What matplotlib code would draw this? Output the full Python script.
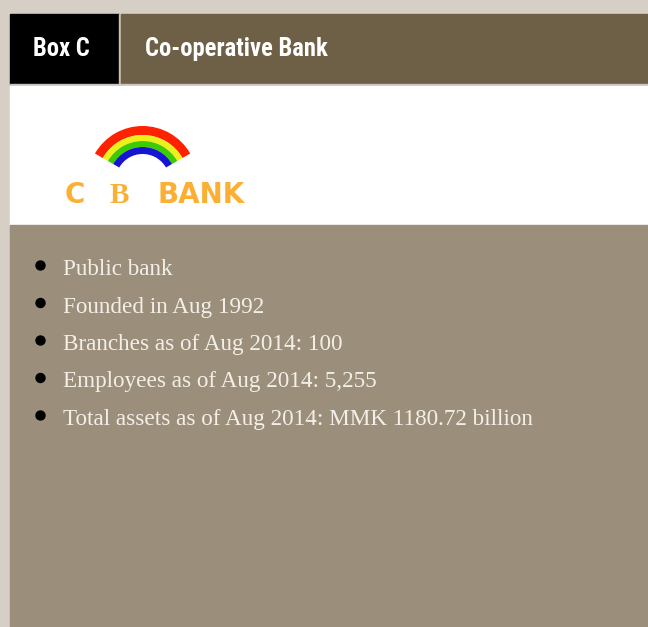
import matplotlib.pyplot as plt
from matplotlib.patches import Rectangle, Wedge, Circle

# content
box_label = 'Box C'
box_title = 'Co-operative Bank'
facts = [
    'Public bank',
    'Founded in Aug 1992',
    'Branches as of Aug 2014: 100',
    'Employees as of Aug 2014: 5,255',
    'Total assets as of Aug 2014: MMK 1180.72 billion',
]
rainbow_colors = ['#ff2200', '#eef01a', '#3ccc00', '#1414d2']
rainbow_radii = [55, 46, 40, 34, 27]

W, H = 648, 627
fig = plt.figure(figsize=(W / 100, H / 100), dpi=100)
fig.patch.set_facecolor('#d6cfc6')
ax = fig.add_axes([0, 0, 1, 1])
ax.set_xlim(0, W)
ax.set_ylim(H, 0)
ax.axis('off')

# panels
ax.add_patch(Rectangle((10, 14), 109, 70, color='black'))
ax.add_patch(Rectangle((119, 14), 2, 70, color='#c9c1b2'))
ax.add_patch(Rectangle((121, 14), W - 121, 70, color='#6e6047'))
ax.add_patch(Rectangle((10, 84), W - 10, 2, color='#c8c4bc'))
ax.add_patch(Rectangle((10, 86), W - 10, 139, color='white'))
ax.add_patch(Rectangle((10, 225), W - 10, H - 225, color='#9b8f7b'))

head_font = dict(family=['Roboto Condensed', 'Liberation Sans Narrow', 'DejaVu Sans'],
                 fontweight='bold', color='white', va='baseline', fontsize=17.7)
ax.text(33, 56, box_label, **head_font)
ax.text(145, 56, box_title, **head_font)

# logo
cx, cy = 142.6, 181
for i, c in enumerate(rainbow_colors):
    r_out, r_in = rainbow_radii[i], rainbow_radii[i + 1]
    ax.add_patch(Wedge((cx, cy), r_out, 210, 330, width=r_out - r_in, color=c, lw=0))
logo_col = '#fbb034'
logo_font = dict(family='DejaVu Sans', fontweight='bold', fontsize=20, color=logo_col, va='baseline')
ax.text(65, 203, 'C', **logo_font)
ax.text(110, 203, 'B', family='Liberation Serif', fontweight='bold', fontsize=21,
        color=logo_col, va='baseline')
ax.text(157, 203, 'BANK', **logo_font)

# bullet list
for i, line in enumerate(facts):
    y = 275 + i * 37.5
    ax.add_patch(Circle((40.5, y - 9.5), 4.5, color='black'))
    ax.text(63, y, line, family='Liberation Serif', fontsize=16.7, color='#f3efe8', va='baseline')

fig.savefig('out.png', dpi=100, facecolor=fig.get_facecolor())
